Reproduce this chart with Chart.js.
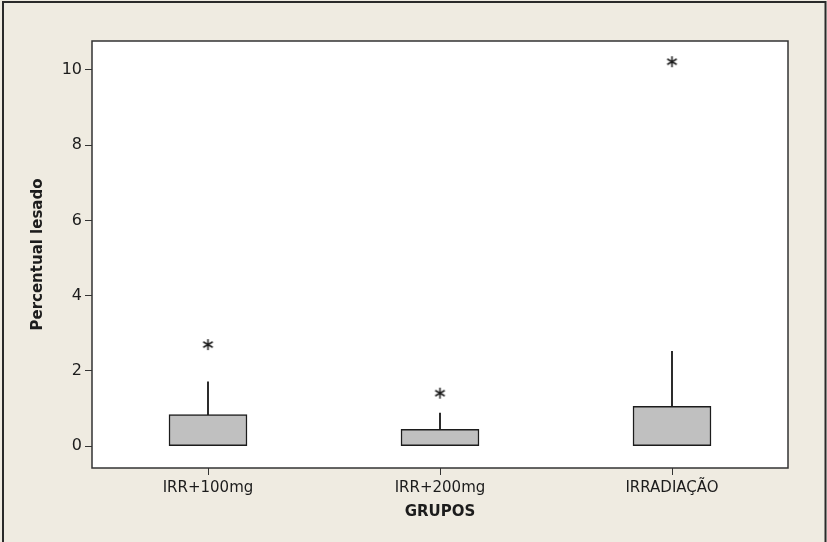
<!DOCTYPE html>
<html>
<head>
<meta charset="utf-8">
<script src="https://cdn.jsdelivr.net/npm/chart.js@4/dist/chart.umd.min.js"></script>
<style>
  html, body { margin: 0; padding: 0; background: #efebe1; }
  #wrap { width: 827px; height: 542px; }
</style>
</head>
<body>
<div id="wrap"><canvas id="c" width="827" height="542"></canvas></div>
<script>
const groups = ['IRR+100mg', 'IRR+200mg', 'IRRADIAÇÃO']
const q1 = [0, 0, 0]
const q3 = [0.84, 0.445, 1.06]
const whiskerTop = [1.71, 0.88, 2.52]
const outliers = [2.7, 1.41, 10.22]
const yTicks = [0, 2, 4, 6, 8, 10]

const INK = '#1c1c1c'
const FONT = { family: 'DejaVu Sans', size: 15 }

// six-armed asterisk like the Minitab outlier symbol
function asterisk(size) {
  const cv = document.createElement('canvas')
  cv.width = size
  cv.height = size
  const g = cv.getContext('2d')
  const c = size / 2
  const r = size / 2 - 1
  g.strokeStyle = INK
  g.lineWidth = 1.5
  g.beginPath()
  for (const deg of [90, 30, -30]) {
    const t = (deg * Math.PI) / 180
    g.moveTo(c - r * Math.cos(t), c - r * Math.sin(t))
    g.lineTo(c + r * Math.cos(t), c + r * Math.sin(t))
  }
  g.stroke()
  return cv
}

const framePlugin = {
  id: 'frame',
  beforeDraw(chart) {
    const { ctx, chartArea: a, width, height } = chart
    ctx.save()
    ctx.fillStyle = '#efebe1'
    ctx.fillRect(0, 0, width, height)
    ctx.fillStyle = '#ffffff'
    ctx.fillRect(a.left, a.top, a.right - a.left, a.bottom - a.top)
    ctx.restore()
  },
  afterDraw(chart) {
    const { ctx, chartArea: a, width } = chart
    ctx.save()
    ctx.strokeStyle = '#333333'
    ctx.lineWidth = 1.5
    ctx.strokeRect(a.left, a.top, a.right - a.left, a.bottom - a.top)
    ctx.lineWidth = 2
    ctx.strokeStyle = '#2a2a2a'
    ctx.strokeRect(3, 2, width - 4.5, 600)
    ctx.restore()
  },
}

new Chart(document.getElementById('c'), {
  type: 'bar',
  data: {
    labels: groups,
    datasets: [
      {
        type: 'line',
        data: outliers,
        showLine: false,
        pointStyle: asterisk(13),
        radius: 6,
        borderColor: INK,
        backgroundColor: INK,
      },
      {
        data: q1.map((v, i) => [v, q3[i]]),
        backgroundColor: '#c0c0c0',
        borderColor: INK,
        borderWidth: 1.5,
        borderSkipped: false,
        barThickness: 78,
        grouped: false,
      },
      {
        data: q3.map((v, i) => [v, whiskerTop[i]]),
        backgroundColor: INK,
        borderWidth: 0,
        barThickness: 1.2,
        grouped: false,
      },
    ],
  },
  options: {
    responsive: false,
    animation: false,
    layout: { padding: { left: 0, top: 41, right: 39, bottom: 0 } },
    plugins: {
      legend: { display: false },
      tooltip: { enabled: false },
    },
    scales: {
      x: {
        offset: true,
        border: { display: false },
        grid: {
          offset: false,
          drawOnChartArea: false,
          drawTicks: true,
          tickLength: 7,
          color: '#333333',
        },
        ticks: { font: FONT, color: INK, padding: 4, maxRotation: 0 },
        title: {
          display: true,
          text: 'GRUPOS',
          font: { ...FONT, weight: 'bold' },
          color: INK,
          padding: { top: 0, bottom: 21 },
        },
        afterFit(scale) {
          scale.height = 74
        },
      },
      y: {
        min: -0.58,
        max: 10.77,
        border: { display: false },
        grid: {
          drawOnChartArea: false,
          drawTicks: true,
          tickLength: 7,
          color: '#333333',
        },
        ticks: { font: { ...FONT, size: 16 }, color: INK, padding: 3 },
        afterBuildTicks(scale) {
          scale.ticks = yTicks.map((v) => ({ value: v }))
        },
        title: {
          display: true,
          text: 'Percentual lesado',
          font: { ...FONT, weight: 'bold' },
          color: INK,
          padding: { top: 29, bottom: 0 },
        },
        afterFit(scale) {
          scale.width = 92
        },
      },
    },
  },
  plugins: [framePlugin],
})
</script>
</body>
</html>
